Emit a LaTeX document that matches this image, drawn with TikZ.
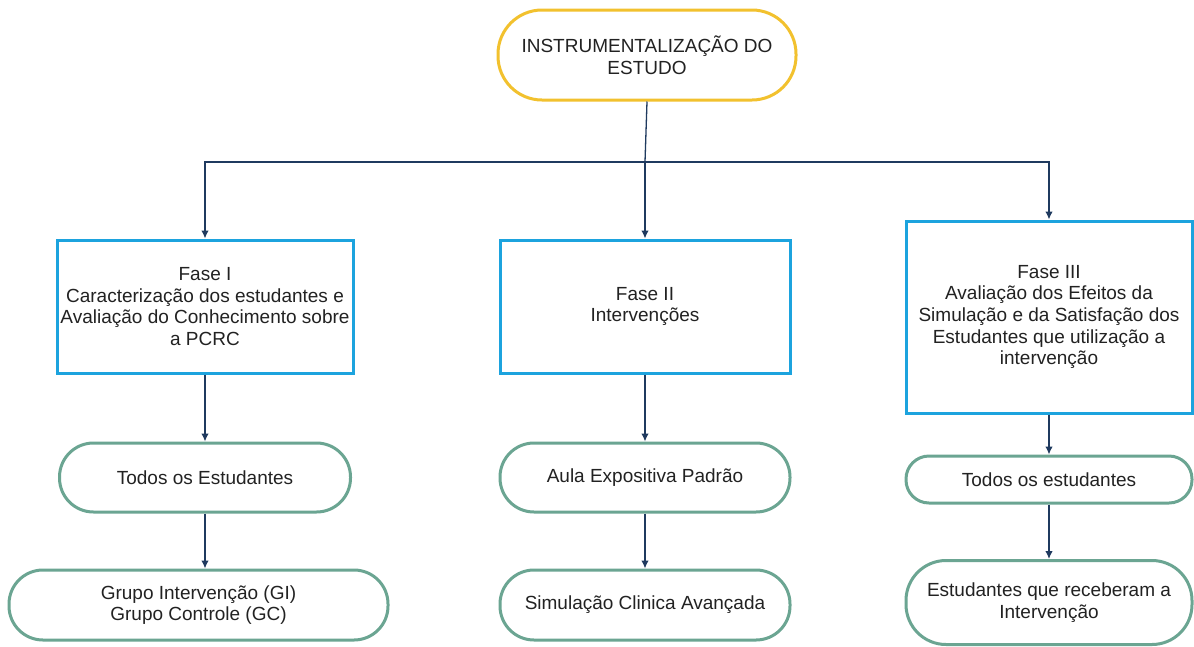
\documentclass[tikz,border=0pt]{standalone}
\usepackage{fontspec}
\setmainfont{Liberation Sans}
\usetikzlibrary{arrows.meta}
\definecolor{ylw}{HTML}{F2C12E}
\definecolor{blu}{HTML}{1CA3DE}
\definecolor{grn}{HTML}{6BA592}
\definecolor{arc}{HTML}{1F3A5F}
\definecolor{txt}{HTML}{222222}
\tikzset{
  x=1pt,y=-1pt,
  base/.style={text=txt,align=center,font=\fontsize{19}{21.7}\selectfont,inner sep=0pt},
  topbox/.style={base,draw=ylw,line width=3pt,rounded corners=44pt},
  phase/.style={base,draw=blu,line width=3pt},
  pill/.style={base,draw=grn,line width=3pt},
  arr/.style={draw=arc,line width=1.3pt,-{Latex[length=8pt,width=7.5pt]}},
  ln/.style={draw=arc,line width=1.3pt}
}
\begin{document}
\begin{tikzpicture}
\useasboundingbox[fill=white] (0,0) rectangle (1194,646);
% top
\node[topbox,minimum width=298pt,minimum height=90pt] (top) at (647,55) {INSTRUMENTALIZAÇÃO DO\\ESTUDO};
% phases
\node[phase,minimum width=296pt,minimum height=133pt] (b1) at (205,306.5) {Fase I\\Caracterização dos estudantes e\\Avaliação do Conhecimento sobre\\a PCRC};
\node[phase,minimum width=290pt,minimum height=133pt] (b2) at (645,306.5) {Fase II\\Intervenções};
\node[phase,minimum width=286pt,minimum height=192pt] (b3) at (1049,317) {Fase III\\Avaliação dos Efeitos da\\Simulação e da Satisfação dos\\Estudantes que utilização a\\intervenção};
% pills
\node[pill,minimum width=291pt,minimum height=69pt,rounded corners=34pt] (l1) at (205,477.5) {Todos os Estudantes};
\node[pill,minimum width=379pt,minimum height=70pt,rounded corners=34pt] (l2) at (198.5,605) {Grupo Intervenção (GI)\\Grupo Controle (GC)};
\node[pill,minimum width=290pt,minimum height=69pt,rounded corners=34pt] (m1) at (645,477.5) {Aula Expositiva Padrão};
\node[pill,minimum width=290pt,minimum height=70pt,rounded corners=34pt] (m2) at (645,605) {Simulação Clinica Avançada};
\node[pill,minimum width=286pt,minimum height=47pt,rounded corners=23pt] (r1) at (1049,479.5) {Todos os estudantes};
\node[pill,minimum width=286pt,minimum height=84pt,rounded corners=40pt] (r2) at (1049,602.5) {Estudantes que receberam a\\Intervenção};
% connectors
\coordinate (J) at (645,162);
\draw[ln] (top.south) -- (J);
\draw[arr] (J) -| (b1.north);
\draw[arr] (J) -- (b2.north);
\draw[arr] (J) -| (b3.north);
\draw[arr] (b1.south) -- (l1.north);
\draw[arr] (l1.south) -- (l1.south |- l2.north);
\draw[arr] (b2.south) -- (m1.north);
\draw[arr] (m1.south) -- (m2.north);
\draw[arr] (b3.south) -- (r1.north);
\draw[arr] (r1.south) -- (r2.north);
\end{tikzpicture}
\end{document}
